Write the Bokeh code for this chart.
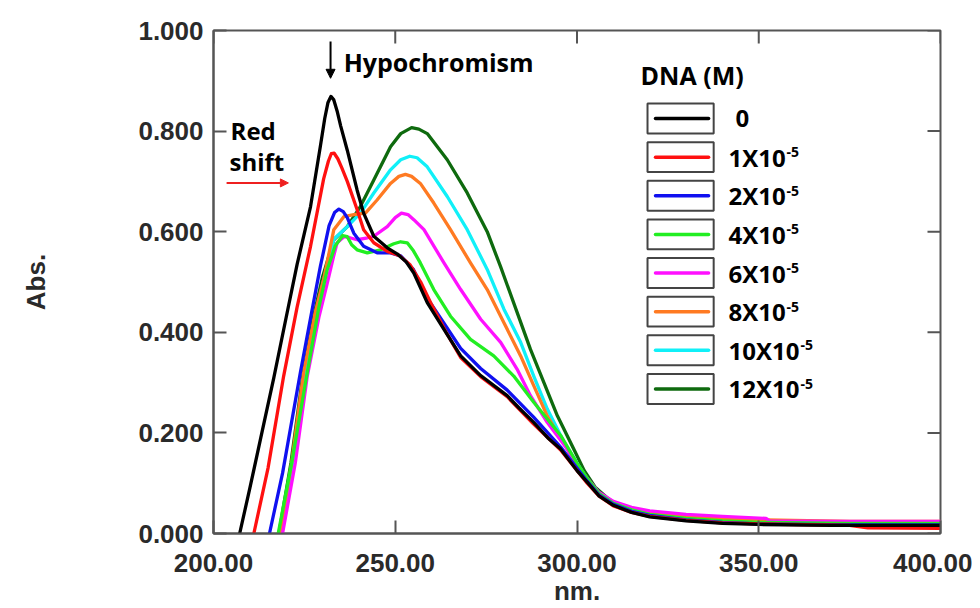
from bokeh.plotting import figure
from bokeh.models import FixedTicker, NumeralTickFormatter, Label, Arrow, NormalHead
from bokeh.embed import file_html
from bokeh.resources import INLINE

# ---------------- data ----------------
x_ticks = [200, 250, 300, 350, 400]
y_ticks = [0.0, 0.2, 0.4, 0.6, 0.8, 1.0]

series_names = ["0", "1X10", "2X10", "4X10", "6X10", "8X10", "10X10", "12X10"]
series_exp = ["", "-5", "-5", "-5", "-5", "-5", "-5", "-5"]
series_colors = ["#000000", "#ff1010", "#1010f0", "#22ee22", "#ff10ff", "#ff7a22", "#10f0f8", "#0e6a0e"]

wl_0 = [207.2, 210, 213, 216.6, 220, 223, 226.7, 229.4, 230.6, 231.5, 232.3, 233.1, 234.0, 235, 236.8, 239.5, 241.3,
        244.1, 247.8, 250.5, 253, 255.1, 258.8, 263.4, 268.0, 273.5, 280.8, 284, 288.1, 292, 295.5, 300, 302.8, 306,
        310, 315, 320, 330, 340, 350, 370, 400]
abs_0 = [0.000, 0.090, 0.190, 0.310, 0.430, 0.535, 0.650, 0.770, 0.825, 0.857, 0.869, 0.862, 0.840, 0.810, 0.762, 0.683,
         0.637, 0.591, 0.568, 0.556, 0.540, 0.518, 0.459, 0.406, 0.353, 0.314, 0.274, 0.250, 0.221, 0.190, 0.168, 0.125,
         0.102, 0.075, 0.056, 0.042, 0.033, 0.025, 0.020, 0.018, 0.016, 0.016]

wl_1 = [211.1, 215, 219.3, 223, 226.7, 230.3, 231.6, 232.4, 233.2, 234.2, 235.3, 236.8, 239.5, 241.3, 244.1, 247.8,
        251, 254, 257, 260, 264, 268, 273.5, 280.8, 288, 295.5, 302.8, 306, 310, 315, 320, 330, 340, 350, 375, 380, 400]
abs_1 = [0.000, 0.130, 0.313, 0.450, 0.571, 0.705, 0.740, 0.755, 0.756, 0.745, 0.727, 0.700, 0.644, 0.604, 0.578, 0.561,
         0.553, 0.535, 0.500, 0.455, 0.400, 0.350, 0.312, 0.272, 0.218, 0.166, 0.100, 0.075, 0.055, 0.042, 0.034, 0.026,
         0.021, 0.019, 0.016, 0.011, 0.010]

wl_2 = [215.4, 219, 223.9, 227, 229.4, 231.8, 233.3, 234.5, 235.7, 236.8, 238.6, 241.3, 245, 248.7, 251.5, 255, 258.8,
        263.4, 268, 273.5, 280.8, 288, 295.5, 302.8, 306, 310, 315, 320, 330, 340, 350, 375, 400]
abs_2 = [0.000, 0.120, 0.320, 0.440, 0.531, 0.612, 0.638, 0.645, 0.640, 0.628, 0.597, 0.571, 0.558, 0.558, 0.552, 0.525,
         0.468, 0.418, 0.368, 0.328, 0.285, 0.232, 0.172, 0.104, 0.077, 0.058, 0.044, 0.036, 0.027, 0.022, 0.019, 0.017,
         0.017]

wl_4 = [217.8, 221.5, 225.8, 229, 231.3, 233.5, 235.5, 236.8, 238, 239.5, 242.3, 246, 249.6, 251.5, 253.3, 255,
        256.9, 260.6, 265.2, 270.7, 277.1, 282.6, 288.1, 295.5, 300, 302.8, 306, 310, 315, 320, 330, 340, 350, 375, 400]
abs_4 = [0.000, 0.140, 0.320, 0.450, 0.525, 0.572, 0.592, 0.590, 0.574, 0.564, 0.558, 0.564, 0.576, 0.580, 0.578, 0.562,
         0.538, 0.485, 0.432, 0.386, 0.353, 0.313, 0.261, 0.195, 0.140, 0.110, 0.080, 0.060, 0.047, 0.038, 0.030, 0.025,
         0.022, 0.020, 0.020]

wl_6 = [219, 222.5, 225.8, 229, 231.3, 233, 234, 235.9, 237.5, 239.5, 242, 244.1, 247.8, 250, 251.7, 253.5,
        255.1, 257.9, 263.4, 268, 273.5, 279, 283.5, 287.2, 291.8, 297.3, 300, 303, 306, 310, 315, 320, 330, 340,
        352, 353, 375, 400]
abs_6 = [0.000, 0.140, 0.313, 0.430, 0.498, 0.550, 0.578, 0.590, 0.588, 0.584, 0.587, 0.591, 0.610, 0.628, 0.637, 0.634,
         0.624, 0.604, 0.538, 0.485, 0.426, 0.380, 0.327, 0.274, 0.221, 0.168, 0.138, 0.108, 0.082, 0.064, 0.052, 0.045,
         0.038, 0.034, 0.030, 0.025, 0.024, 0.024]

wl_8 = [218.3, 221.5, 224.8, 228, 230.3, 233.1, 235.9, 238.6, 241.8, 245, 248.7, 251, 252.8, 254.5, 256.9, 260.6,
        265.2, 270.7, 275.3, 279.9, 284.5, 288.1, 291.8, 297.3, 300, 303, 306, 310, 315, 320, 330, 340, 352, 375, 400]
abs_8 = [0.000, 0.140, 0.320, 0.440, 0.505, 0.604, 0.630, 0.634, 0.637, 0.663, 0.696, 0.710, 0.714, 0.710, 0.696, 0.657,
         0.604, 0.538, 0.485, 0.419, 0.353, 0.294, 0.234, 0.168, 0.136, 0.105, 0.080, 0.062, 0.050, 0.042, 0.034, 0.030,
         0.027, 0.024, 0.024]

wl_10 = [218.5, 221.8, 225, 228, 230.5, 233.1, 236.8, 240.4, 244.1, 248.7, 251.5, 254, 256, 258.8, 264.3, 269.8,
         275.3, 279.9, 284.5, 288.1, 291.8, 296.4, 300, 303, 306, 310, 315, 320, 330, 340, 350, 375, 400]
abs_10 = [0.000, 0.140, 0.310, 0.430, 0.510, 0.585, 0.610, 0.637, 0.677, 0.723, 0.743, 0.750, 0.747, 0.729, 0.670, 0.604,
          0.525, 0.446, 0.380, 0.313, 0.248, 0.182, 0.140, 0.105, 0.080, 0.060, 0.048, 0.040, 0.032, 0.028, 0.025, 0.023,
          0.022]

wl_12 = [218, 221.3, 224.5, 227.5, 230, 233.1, 236.8, 240.4, 244.1, 248.7, 251.5, 254.5, 256.5, 258.8, 264.3, 269.8,
         275.3, 279, 283.5, 287.2, 290.9, 294.6, 299.1, 302, 305, 310, 315, 320, 330, 340, 350, 375, 400]
abs_12 = [0.000, 0.140, 0.310, 0.430, 0.510, 0.584, 0.610, 0.650, 0.703, 0.769, 0.795, 0.807, 0.804, 0.795, 0.743, 0.677,
          0.600, 0.530, 0.440, 0.366, 0.300, 0.234, 0.168, 0.125, 0.092, 0.060, 0.046, 0.037, 0.030, 0.026, 0.022, 0.020,
          0.020]

all_wl = [wl_0, wl_1, wl_2, wl_4, wl_6, wl_8, wl_10, wl_12]
all_abs = [abs_0, abs_1, abs_2, abs_4, abs_6, abs_8, abs_10, abs_12]

# ---------------- figure ----------------
TICK_FONT = "Liberation Sans"
TEXT_FONT = "Open Sans"
AX_COL = "#555555"
X0, X1, Y0, Y1 = 200, 400, 0.0, 1.0

p = figure(width=972, height=608, x_range=(X0, X1), y_range=(Y0, Y1),
           output_backend="svg", toolbar_location=None,
           min_border_left=213, min_border_right=32, min_border_top=30, min_border_bottom=73)
p.background_fill_color = "white"
p.border_fill_color = "white"
p.outline_line_color = AX_COL
p.outline_line_width = 2
p.xgrid.visible = False
p.ygrid.visible = False

def style_axis(ax):
    ax.major_tick_in = 13
    ax.major_tick_out = 0
    ax.minor_tick_in = 0
    ax.minor_tick_out = 0
    ax.axis_line_color = AX_COL
    ax.axis_line_width = 2
    ax.major_tick_line_color = AX_COL
    ax.major_tick_line_width = 2
    ax.major_label_text_font = TICK_FONT
    ax.major_label_text_font_style = "bold"
    ax.major_label_text_font_size = "26px"
    ax.major_label_text_color = "#2a2a2a"
    ax.axis_label_text_font = TICK_FONT
    ax.axis_label_text_font_style = "bold"
    ax.axis_label_text_font_size = "26px"
    ax.axis_label_text_color = "#2a2a2a"

xa = p.xaxis[0]
xa.ticker = FixedTicker(ticks=x_ticks)
xa.formatter = NumeralTickFormatter(format="0.00")
style_axis(xa)
xa.major_label_standoff = 20
xa.axis_label = "nm."
xa.axis_label_standoff = 1

ya = p.yaxis[0]
ya.ticker = FixedTicker(ticks=y_ticks)
ya.formatter = NumeralTickFormatter(format="0.000")
style_axis(ya)
ya.major_label_standoff = 10
ya.axis_label = "Abs."
ya.axis_label_standoff = 84

# mirrored inward ticks on the top and right frame edges
tick_dx = (X1 - X0) * 13 / 727
tick_dy = (Y1 - Y0) * 13 / 505
p.segment(x0=x_ticks, y0=[Y1] * len(x_ticks), x1=x_ticks, y1=[Y1 - tick_dy] * len(x_ticks),
          line_color=AX_COL, line_width=2)
p.segment(x0=[X1] * len(y_ticks), y0=y_ticks, x1=[X1 - tick_dx] * len(y_ticks), y1=y_ticks,
          line_color=AX_COL, line_width=2)

# curves (highest concentration first, blank on top)
for i in reversed(range(len(series_names))):
    p.line(all_wl[i], all_abs[i], line_color=series_colors[i], line_width=3.3, line_join="round")

# annotations
p.add_layout(Label(x=235.8, y=0.937, text="Hypochromism", text_align="left", text_baseline="middle",
                   text_font=TEXT_FONT, text_font_style="bold", text_font_size="25px", text_color="#000000"))
p.add_layout(Arrow(x_start=232.2, y_start=0.978, x_end=232.2, y_end=0.905, line_color="black", line_width=2,
                   end=NormalHead(size=9, fill_color="black", line_color="black")))
p.add_layout(Label(x=204.7, y=0.802, text="Red", text_align="left", text_baseline="middle",
                   text_font=TEXT_FONT, text_font_style="bold", text_font_size="24px", text_color="#000000"))
p.add_layout(Label(x=204.4, y=0.739, text="shift", text_align="left", text_baseline="middle",
                   text_font=TEXT_FONT, text_font_style="bold", text_font_size="24px", text_color="#000000"))
p.add_layout(Arrow(x_start=203.6, y_start=0.697, x_end=220.6, y_end=0.697, line_color="#ee2020", line_width=2,
                   end=NormalHead(size=8, fill_color="#ee2020", line_color="#ee2020")))

# legend (custom, boxed samples)
leg_title_x, leg_title_y = 317.5, 0.911
box_l, box_r, box_h = 319.4, 337.6, 0.0594
samp_l, samp_r = 321.6, 336.2
lab_x = 341.7
leg_top, leg_step = 0.825, 0.0768
p.add_layout(Label(x=leg_title_x, y=leg_title_y, text="DNA (M)", text_align="left", text_baseline="middle",
                   text_font=TEXT_FONT, text_font_style="bold", text_font_size="25px", text_color="#000000"))
base_w = {"0": 0, "1X10": 57, "2X10": 57, "4X10": 57, "6X10": 57, "8X10": 57, "10X10": 71, "12X10": 71}
for i, name in enumerate(series_names):
    yc = leg_top - i * leg_step
    p.quad(left=[box_l], right=[box_r], bottom=[yc - box_h / 2], top=[yc + box_h / 2],
           fill_color="white", line_color="#444444", line_width=2)
    p.line([samp_l, samp_r], [yc, yc], line_color=series_colors[i], line_width=3.5, line_cap="round")
    lx = lab_x + (1.9 if name == "0" else 0)
    p.add_layout(Label(x=lx, y=yc, text=name, text_align="left", text_baseline="middle",
                       text_font=TEXT_FONT, text_font_style="bold", text_font_size="24px", text_color="#000000"))
    if series_exp[i]:
        p.add_layout(Label(x=lx, y=yc, x_offset=base_w[name] + 1, y_offset=5, text=series_exp[i],
                           text_align="left", text_baseline="middle",
                           text_font=TEXT_FONT, text_font_style="bold", text_font_size="14px",
                           text_color="#000000"))

open("out.html", "w").write(file_html(p, INLINE))
